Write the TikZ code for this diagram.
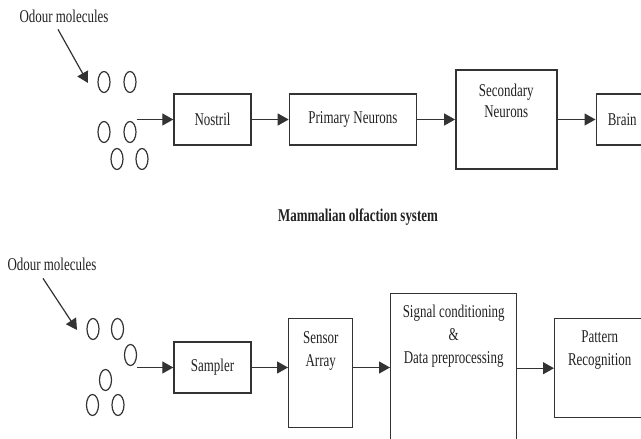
\documentclass[tikz,border=0pt]{standalone}
\usepackage{fontspec}
\setmainfont[FakeStretch=0.72]{Liberation Serif}
\usepackage{tikz}
\usetikzlibrary{positioning,shapes.geometric,arrows.meta}

\definecolor{inkgray}{HTML}{333333}
\definecolor{textgray}{HTML}{222222}

\tikzset{
	block/.style={draw=inkgray, line width=1.4pt, inner sep=0pt},
	txt/.style={text=textgray, font=\fontsize{18}{23}\selectfont, align=center, inner sep=0pt},
	mol/.style={draw=inkgray, ellipse, line width=1.2pt, minimum width=12pt, minimum height=21pt, inner sep=0pt},
	flow/.style={draw=inkgray, line width=1.2pt, -{Triangle[length=11pt,width=12pt]}}
}

\begin{document}
\begin{tikzpicture}[x=1pt,y=-1pt]

\clip (0,0) rectangle (641,439);

% Odour molecules (top)
\node[txt, anchor=base] (odour1) at (64,23) {Odour molecules};
\coordinate (tip1) at (88,83);
\draw[flow] ([xshift=-6pt,yshift=-6pt]odour1.south) -- (tip1);

\node[mol] (m1) at (104,82) {};
\node[mol] (m2) at (130,82) {};
\node[mol] (m3) at (104,132) {};
\node[mol] (m4) at (130,132) {};
\node[mol] (m5) at (117,159) {};
\node[mol] (m6) at (142,159) {};

% Nostril
\node [block, txt,
	minimum width=77pt,
	minimum height=51pt
] (nostril) at (212.5,119.5) {Nostril};

% Primary neurons
\node [block, txt,
	minimum width=127pt,
	minimum height=51pt,
	right=37pt of nostril
] (primary) {Primary Neurons};

% Secondary neurons
\node [block,
	minimum width=101pt,
	minimum height=99pt,
	right=38pt of primary
] (secondary) {};
\node[txt, below=15pt of secondary.north] (secondary-t) {Secondary\\[-2pt]Neurons};

% Brain
\node [block, txt,
	minimum width=52pt,
	minimum height=51pt,
	right=38pt of secondary
] (brain) {Brain};

\draw[flow] (m4.east |- nostril.west) -- (nostril.west);
\draw[flow] (nostril) -- (primary);
\draw[flow] (primary) -- (secondary);
\draw[flow] (secondary) -- (brain);

\node[txt, font=\fontsize{18}{23}\selectfont\bfseries, anchor=base] (caption) at (358,221) {Mammalian olfaction system};

% Odour molecules (bottom)
\node[txt, anchor=base] (odour2) at (52,270) {Odour molecules};
\coordinate (tip2) at (77,330);
\draw[flow] ([xshift=-9pt,yshift=-8pt]odour2.south) -- (tip2);

\node[mol] (n1) at (93,329) {};
\node[mol] (n2) at (117.5,329) {};
\node[mol] (n3) at (130.5,355) {};
\node[mol] (n4) at (105.5,380) {};
\node[mol] (n5) at (92.5,405) {};
\node[mol] (n6) at (118,405) {};

% Sampler
\node [block, txt,
	minimum width=77pt,
	minimum height=51pt
] (sampler) at (212.5,367.5) {Sampler};

% Sensor array
\node [block,
	minimum width=64pt,
	minimum height=109pt,
	anchor=north west
] (sensor) at (288,318) {};
\node[txt, below=13pt of sensor.north] (sensor-t) {Sensor\\Array};

% Signal conditioning
\node [block,
	minimum width=126pt,
	minimum height=170pt,
	anchor=north west
] (signal) at (390,293) {};
\node[txt, below=12pt of signal.north] (signal-t) {Signal conditioning\\\&\\Data preprocessing};

% Pattern recognition
\node [block,
	minimum width=90pt,
	minimum height=99pt,
	anchor=north west
] (pattern) at (554,318) {};
\node[txt, below=13pt of pattern.north] (pattern-t) {Pattern\\Recognition};

\draw[flow] (n3.east |- sampler.west) -- (sampler.west);
\draw[flow] (sampler) -- (sampler -| sensor.west);
\draw[flow] (sensor.east |- sampler) -- (signal.west |- sampler);
\draw[flow] (signal.east |- pattern) -- (pattern);

\end{tikzpicture}
\end{document}
